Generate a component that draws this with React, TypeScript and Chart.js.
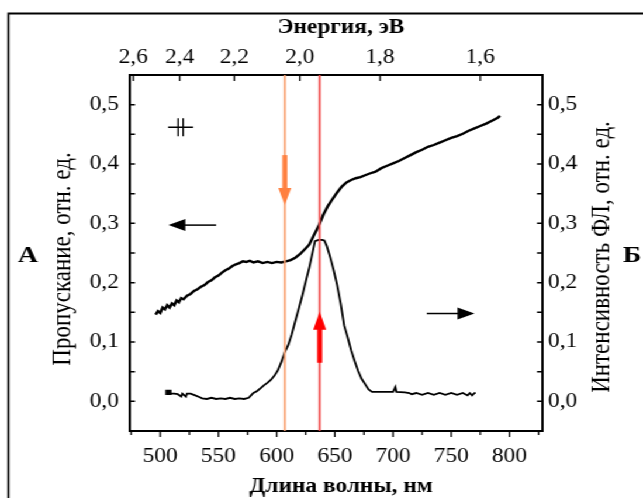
import React, { useEffect, useRef } from 'react';
import { Chart, registerables } from 'chart.js';
Chart.register(...registerables);

// ---- data ----
const transWl = [496, 498, 500, 502, 504, 506, 508, 510, 512, 514, 516, 518, 520, 523, 526, 529, 532, 535, 538, 541, 544, 547, 550, 553, 556, 559, 562, 565, 568, 571, 574, 577, 580, 584, 588, 592, 596, 600, 604, 608, 612, 616, 620, 624, 628, 632, 636, 640, 644, 648, 652, 656, 660, 664, 668, 672, 676, 680, 685, 690, 695, 700, 705, 710, 715, 720, 725, 730, 735, 740, 745, 750, 755, 760, 765, 770, 775, 780, 785, 790, 792];
const transVal = [0.146, 0.152, 0.149, 0.158, 0.155, 0.162, 0.158, 0.165, 0.162, 0.170, 0.167, 0.174, 0.172, 0.178, 0.181, 0.186, 0.189, 0.193, 0.196, 0.201, 0.204, 0.209, 0.212, 0.217, 0.221, 0.224, 0.228, 0.231, 0.233, 0.236, 0.235, 0.237, 0.234, 0.236, 0.233, 0.235, 0.233, 0.235, 0.234, 0.236, 0.238, 0.242, 0.248, 0.256, 0.264, 0.280, 0.295, 0.314, 0.329, 0.341, 0.352, 0.362, 0.369, 0.373, 0.376, 0.378, 0.381, 0.384, 0.387, 0.393, 0.397, 0.401, 0.405, 0.410, 0.415, 0.420, 0.424, 0.429, 0.432, 0.436, 0.440, 0.444, 0.447, 0.451, 0.456, 0.460, 0.464, 0.468, 0.473, 0.478, 0.481];

const plWl = [507, 508, 512, 515, 518, 519, 522, 523, 526, 530, 534, 536, 540, 544, 548, 552, 556, 560, 564, 568, 572, 576, 578, 580, 583, 586, 589, 592, 595, 598, 601, 604, 607, 610, 613, 616, 619, 622, 625, 628, 631, 633, 636, 639, 641, 643, 646, 649, 652, 655, 658, 661, 664, 667, 670, 673, 676, 679, 682, 690, 700, 702, 703, 710, 714, 716, 720, 725, 730, 735, 740, 745, 750, 755, 760, 764, 766, 768, 770, 771];
const plVal = [0.015, 0.013, 0.013, 0.012, 0.008, 0.013, 0.008, 0.013, 0.013, 0.010, 0.007, 0.005, 0.004, 0.006, 0.004, 0.005, 0.004, 0.006, 0.004, 0.005, 0.004, 0.006, 0.010, 0.014, 0.017, 0.022, 0.027, 0.031, 0.036, 0.043, 0.052, 0.066, 0.083, 0.095, 0.113, 0.135, 0.156, 0.178, 0.202, 0.225, 0.252, 0.270, 0.272, 0.272, 0.271, 0.262, 0.243, 0.221, 0.196, 0.165, 0.128, 0.108, 0.086, 0.068, 0.051, 0.038, 0.029, 0.020, 0.016, 0.016, 0.016, 0.024, 0.016, 0.015, 0.014, 0.012, 0.014, 0.011, 0.014, 0.011, 0.014, 0.011, 0.014, 0.011, 0.014, 0.010, 0.014, 0.010, 0.014, 0.014];

const excitationWl = [607, 637];
const wlTicks = [500, 550, 600, 650, 700, 750, 800];
const wlMinorTicks = [475, 525, 575, 625, 675, 725, 775, 825];
const energyTicks = [2.6, 2.4, 2.2, 2.0, 1.8, 1.6];
const yTicks = [0, 0.1, 0.2, 0.3, 0.4, 0.5];
const yMinorTicks = [0.05, 0.15, 0.25, 0.35, 0.45];

const HC = 1240; // eV*nm
const X_MIN = 474, X_MAX = 828, Y_MIN = -0.05, Y_MAX = 0.55;

// annotation anchors (data coordinates)
const orangeArrow = { x: 607, from: 0.415, to: 0.331 };
const redArrow = { x: 637, from: 0.065, to: 0.151 };
const leftArrow = { y: 0.297, from: 548, to: 507 };
const rightArrow = { y: 0.148, from: 729, to: 770 };
const polarMark = { x: 517.5, y: 0.462 };

const ORANGE_LINE = '#f8a070';
const RED_LINE = '#f04c4c';
const SERIF = '"Liberation Serif", "DejaVu Serif", serif';

// the reference is horizontally stretched; draw narrower and stretch with CSS
const CW = 550;
const S = 643 / CW;

const comma = (v: number) => v.toFixed(1).replace('.', ',');

function arrow(ctx: CanvasRenderingContext2D, x1: number, y1: number, x2: number, y2: number, color: string, shaftW: number, headW: number, headL: number) {
  const ang = Math.atan2(y2 - y1, x2 - x1);
  const len = Math.hypot(x2 - x1, y2 - y1);
  ctx.save();
  ctx.translate(x1, y1);
  ctx.rotate(ang);
  ctx.fillStyle = color;
  ctx.fillRect(0, -shaftW / 2, len - headL + 1, shaftW);
  ctx.beginPath();
  ctx.moveTo(len, 0);
  ctx.lineTo(len - headL, -headW / 2);
  ctx.lineTo(len - headL, headW / 2);
  ctx.closePath();
  ctx.fill();
  ctx.restore();
}

const decorPlugin = {
  id: 'decor',
  afterDraw(chart: any) {
    const ctx: CanvasRenderingContext2D = chart.ctx;
    const { x, x2, y, y2 } = chart.scales;
    const ca = chart.chartArea;
    const X = (v: number) => x.getPixelForValue(v) * S;
    const L = ca.left * S, Rr = ca.right * S;

    // shapes drawn in reference-pixel space
    ctx.save();
    ctx.scale(1 / S, 1);
    ctx.strokeStyle = '#000';
    ctx.lineWidth = 2;
    ctx.beginPath();
    ctx.moveTo(8.5, 600);
    ctx.lineTo(8.5, 13.5);
    ctx.lineTo(800, 13.5);
    ctx.stroke();

    ctx.lineWidth = 1.5;
    ctx.beginPath();
    wlTicks.forEach(v => { const px = X(v); ctx.moveTo(px, ca.bottom); ctx.lineTo(px, ca.bottom + 6); });
    wlMinorTicks.forEach(v => { const px = X(v); ctx.moveTo(px, ca.bottom); ctx.lineTo(px, ca.bottom + 4); });
    energyTicks.forEach(e => { const px = x2.getPixelForValue(HC / e) * S; ctx.moveTo(px, ca.top); ctx.lineTo(px, ca.top + 6); });
    yTicks.concat(yMinorTicks).forEach(v => {
      const py = y.getPixelForValue(v); ctx.moveTo(L, py); ctx.lineTo(L + 5, py);
      const py2 = y2.getPixelForValue(v); ctx.moveTo(Rr, py2); ctx.lineTo(Rr - 5, py2);
    });
    ctx.stroke();

    arrow(ctx, X(orangeArrow.x), y.getPixelForValue(orangeArrow.from), X(orangeArrow.x), y.getPixelForValue(orangeArrow.to), '#ff8040', 5, 13, 17);
    arrow(ctx, X(redArrow.x), y2.getPixelForValue(redArrow.from), X(redArrow.x), y2.getPixelForValue(redArrow.to), '#ff0000', 5, 13, 18);
    arrow(ctx, X(leftArrow.from), y.getPixelForValue(leftArrow.y), X(leftArrow.to), y.getPixelForValue(leftArrow.y), '#000', 1.5, 12, 17);
    arrow(ctx, X(rightArrow.from), y2.getPixelForValue(rightArrow.y), X(rightArrow.to), y2.getPixelForValue(rightArrow.y), '#000', 1.5, 12, 17);

    const mx = X(polarMark.x), my = y.getPixelForValue(polarMark.y);
    ctx.lineWidth = 1.5;
    ctx.beginPath();
    ctx.moveTo(mx - 12.5, my); ctx.lineTo(mx + 12.5, my);
    ctx.moveTo(mx - 2.5, my - 9); ctx.lineTo(mx - 2.5, my + 9);
    ctx.moveTo(mx + 2.5, my - 9); ctx.lineTo(mx + 2.5, my + 9);
    ctx.stroke();
    ctx.restore();

    // titles (canvas space; stretched with the rest)
    ctx.save();
    ctx.fillStyle = '#000';
    ctx.textAlign = 'center';
    ctx.textBaseline = 'middle';
    ctx.font = `bold 20px ${SERIF}`;
    const cx = 341 / S;
    ctx.fillText('Энергия, эВ', cx, 28);
    ctx.fillText('Длина волны, нм', cx, 487);
    ctx.font = `bold 24px ${SERIF}`;
    ctx.fillText('А', 28 / S, 256);
    ctx.fillText('Б', 632 / S, 256);
    ctx.font = `23px ${SERIF}`;
    ctx.save();
    ctx.translate(63 / S, 259);
    ctx.rotate(-Math.PI / 2);
    ctx.fillText('Пропускание, отн. ед.', 0, 0);
    ctx.restore();
    ctx.save();
    ctx.translate(602 / S, 257);
    ctx.rotate(-Math.PI / 2);
    ctx.fillText('Интенсивность ФЛ, отн. ед.', 0, 0);
    ctx.restore();
    ctx.restore();
  },
};

export default function App() {
  const ref = useRef<HTMLCanvasElement | null>(null);
  useEffect(() => {
    if (!ref.current) return;
    const tickFont = { family: SERIF, size: 20 };
    const border = { display: true, color: '#000', width: 2 };
    const chart = new Chart(ref.current, {
      type: 'line',
      data: {
        datasets: [
          {
            label: 'orange',
            data: [{ x: excitationWl[0], y: Y_MIN }, { x: excitationWl[0], y: Y_MAX }],
            borderColor: ORANGE_LINE, borderWidth: 1.8, pointRadius: 0, xAxisID: 'x', yAxisID: 'y',
          },
          {
            label: 'red',
            data: [{ x: excitationWl[1], y: Y_MIN }, { x: excitationWl[1], y: Y_MAX }],
            borderColor: RED_LINE, borderWidth: 1.8, pointRadius: 0, xAxisID: 'x', yAxisID: 'y',
          },
          {
            label: 'Пропускание',
            data: transWl.map((w, i) => ({ x: w, y: transVal[i] })),
            borderColor: '#000', borderWidth: 2.4, pointRadius: 0, tension: 0, xAxisID: 'x', yAxisID: 'y',
          },
          {
            label: 'ФЛ',
            data: plWl.map((w, i) => ({ x: w, y: plVal[i] })),
            borderColor: '#000', backgroundColor: '#000', borderWidth: 1.8, tension: 0,
            pointRadius: (c: any) => (c.dataIndex === 0 ? 2.5 : 0), pointStyle: 'rect',
            xAxisID: 'x', yAxisID: 'y2',
          },
        ],
      },
      options: {
        animation: false,
        responsive: true,
        maintainAspectRatio: false,
        layout: { padding: 0 },
        plugins: { legend: { display: false }, tooltip: { enabled: false } },
        scales: {
          x: {
            type: 'linear', position: 'bottom', min: X_MIN, max: X_MAX,
            afterBuildTicks: (s: any) => { s.ticks = wlTicks.map(v => ({ value: v })); },
            afterFit: (s: any) => { s.height = 67; },
            ticks: { font: tickFont, color: '#000', padding: 14, maxRotation: 0, autoSkip: false, callback: (v: any) => String(v) },
            grid: { display: false, drawTicks: false },
            border,
          },
          x2: {
            type: 'linear', position: 'top', min: X_MIN, max: X_MAX,
            afterBuildTicks: (s: any) => { s.ticks = energyTicks.map(e => ({ value: HC / e })); },
            afterFit: (s: any) => { s.height = 75; },
            ticks: { font: tickFont, color: '#000', padding: 5, maxRotation: 0, autoSkip: false, callback: (v: any) => comma(HC / v) },
            grid: { display: false, drawTicks: false },
            border,
          },
          y: {
            type: 'linear', position: 'left', min: Y_MIN, max: Y_MAX,
            afterBuildTicks: (s: any) => { s.ticks = yTicks.map(v => ({ value: v })); },
            afterFit: (s: any) => { s.width = 130 / S; },
            ticks: { font: tickFont, color: '#000', padding: 11 / S, autoSkip: false, callback: (v: any) => comma(v) },
            grid: { display: false, drawTicks: false },
            border,
          },
          y2: {
            type: 'linear', position: 'right', min: Y_MIN, max: Y_MAX,
            afterBuildTicks: (s: any) => { s.ticks = yTicks.map(v => ({ value: v })); },
            afterFit: (s: any) => { s.width = 101 / S; },
            ticks: { font: tickFont, color: '#000', padding: 6 / S, autoSkip: false, callback: (v: any) => comma(v) },
            grid: { display: false, drawTicks: false },
            border,
          },
        },
      } as any,
      plugins: [decorPlugin],
    });
    return () => chart.destroy();
  }, []);
  return (
    <div style={{ position: 'absolute', left: 0, top: 0, width: CW, height: 498, background: '#fff', transform: `scaleX(${S})`, transformOrigin: '0 0' }}>
      <canvas ref={ref} />
    </div>
  );
}
